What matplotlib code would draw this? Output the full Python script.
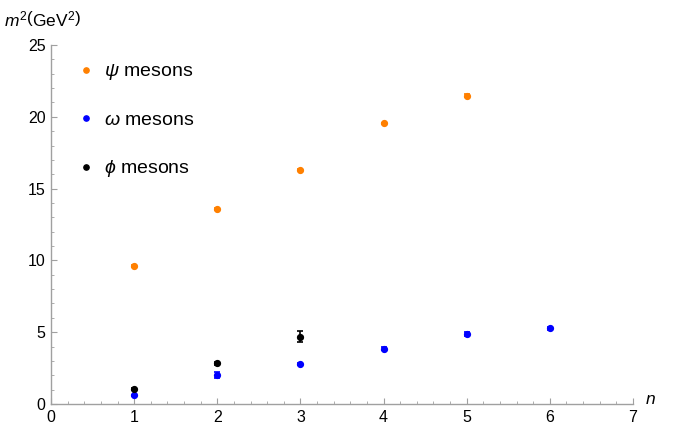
import matplotlib
matplotlib.use("Agg")
import matplotlib.pyplot as plt
from matplotlib.ticker import MultipleLocator

plt.rcParams['font.family'] = ['Liberation Sans', 'DejaVu Sans']
plt.rcParams['mathtext.fontset'] = 'custom'
plt.rcParams['mathtext.rm'] = 'Liberation Sans'
plt.rcParams['mathtext.it'] = 'Liberation Sans:italic'

psi_n = [1, 2, 3, 4, 5]
psi_m2 = [9.60, 13.59, 16.33, 19.55, 21.48]
psi_err = [0.05, 0.05, 0.05, 0.05, 0.08]

omega_n = [1, 2, 3, 4, 5, 6]
omega_m2 = [0.61, 2.01, 2.80, 3.86, 4.88, 5.27]
omega_err = [0.05, 0.2, 0.08, 0.08, 0.12, 0.1]

phi_n = [1, 2, 3]
phi_m2 = [1.04, 2.83, 4.70]
phi_err = [0.08, 0.1, 0.4]

labels = [r"$\psi$ mesons", r"$\omega$ mesons", r"$\phi$ mesons"]
colors = ["#ff8000", "#0000ff", "#000000"]

fig = plt.figure(figsize=(6.8, 4.3), dpi=100)
ax = fig.add_axes([51/680, 1-404/430, 582/680, 359/430])

series = [(psi_n, psi_m2, psi_err), (omega_n, omega_m2, omega_err), (phi_n, phi_m2, phi_err)]
handles = []
for (n, m, e), c, lab in zip(series, colors, labels):
    ax.errorbar(n, m, yerr=e, fmt='o', color=c, ms=4.2, capsize=2.5, elinewidth=1.2,
                capthick=1.2, zorder=3)
    h, = ax.plot([], [], 'o', color=c, ms=3.8, label=lab)
    handles.append(h)

ax.set_xlim(0, 7)
ax.set_ylim(0, 25)
ax.xaxis.set_major_locator(MultipleLocator(1))
ax.xaxis.set_minor_locator(MultipleLocator(0.2))
ax.yaxis.set_major_locator(MultipleLocator(5))
ax.yaxis.set_minor_locator(MultipleLocator(1))
for s in ['top', 'right']:
    ax.spines[s].set_visible(False)
for s in ['left', 'bottom']:
    ax.spines[s].set_color('#a0a0a0')
    ax.spines[s].set_linewidth(1.0)
ax.tick_params(which='major', direction='in', length=4, color='#a0a0a0', width=0.8,
               labelsize=11.5, pad=4)
ax.tick_params(which='minor', direction='in', length=2, color='#a0a0a0', width=0.6)

leg = ax.legend(handles=handles, loc='upper left', bbox_to_anchor=(0.013, 1.0),
                frameon=False, fontsize=14, labelspacing=1.5, handletextpad=0.45,
                handlelength=1.0)

fig.text(4/680, 1-20/430, r"$m^2\left(\mathrm{GeV}^2\right)$", fontsize=12.5, va='center', ha='left')
fig.text(650/680, 1-399/430, r"$n$", fontsize=12.5, va='center', ha='center')

fig.savefig("out.png", dpi=100)
